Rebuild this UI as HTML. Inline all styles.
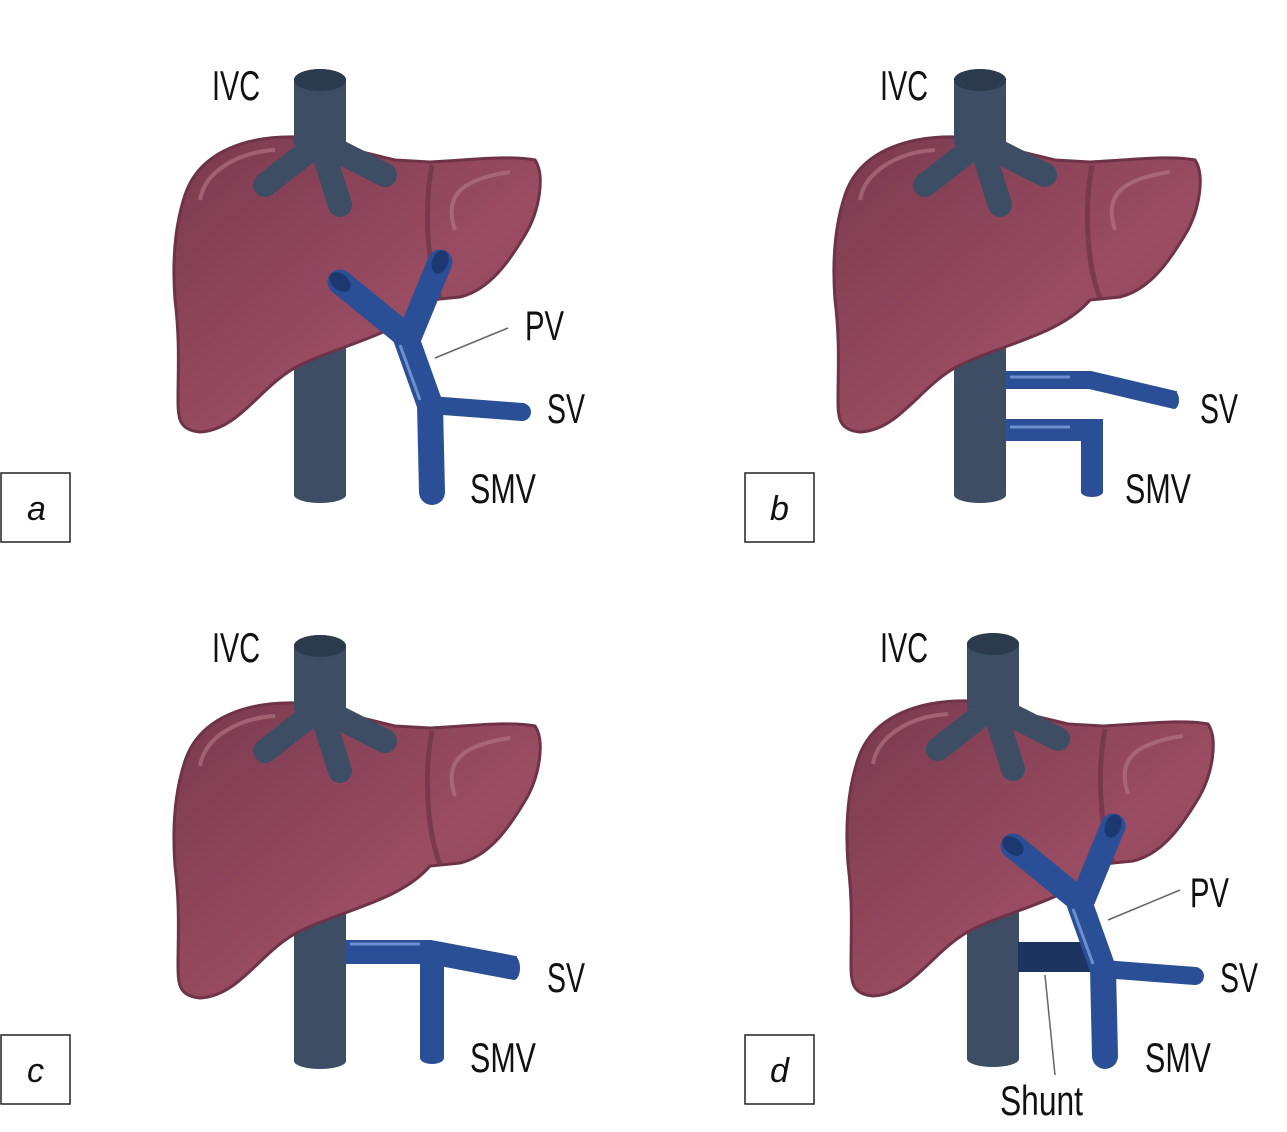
<!DOCTYPE html>
<html><head><meta charset="utf-8"><style>
html,body{margin:0;padding:0;background:#fff;}
svg{display:block;}
text{font-family:"Liberation Sans Narrow","Liberation Sans",sans-serif;font-size:42px;fill:#111;}
.lt{font-style:italic;font-size:34px;}
</style></head><body>
<svg width="1287" height="1132" viewBox="0 0 1287 1132" xmlns="http://www.w3.org/2000/svg">
<defs>
<linearGradient id="lg" x1="0" y1="0" x2="1" y2="1">
<stop offset="0" stop-color="#7a3a4f"/><stop offset="0.6" stop-color="#9a4c62"/><stop offset="1" stop-color="#8a4358"/>
</linearGradient>
<g id="ivc">
<rect x="294" y="80" width="52" height="415" fill="#3d4d63"/>
<ellipse cx="320" cy="495" rx="26" ry="8" fill="#3d4d63"/>
<ellipse cx="320" cy="80" rx="26" ry="11" fill="#2c3a4d"/>
</g>
<g id="liver">
<path d="M185 195 C200 150 250 135 300 137 L395 160 L430 162 C470 160 510 155 535 160 C545 175 540 210 525 235 C510 260 490 290 460 297 L430 300 C400 335 340 345 300 365 C260 385 240 430 200 432 C180 430 178 420 178 400 C178 370 180 340 175 300 C172 260 175 225 185 195 Z" fill="url(#lg)" stroke="#6e3346" stroke-width="3"/>
<path d="M432 165 C425 200 425 260 440 298" fill="none" stroke="#6e3346" stroke-width="5" opacity="0.7"/>
<path d="M200 200 C205 170 240 152 275 150" fill="none" stroke="#b57a8a" stroke-width="4" opacity="0.6"/>
<path d="M455 230 C445 200 455 180 510 172" fill="none" stroke="#b57a8a" stroke-width="4" opacity="0.6"/>
<g stroke="#3d4d63" stroke-width="24" stroke-linecap="round">
<line x1="320" y1="142" x2="265" y2="185"/>
<line x1="320" y1="142" x2="340" y2="205"/>
<line x1="320" y1="142" x2="385" y2="175"/>
</g>
<rect x="294" y="80" width="52" height="65" fill="#3d4d63"/>
<ellipse cx="320" cy="80" rx="26" ry="11" fill="#2c3a4d"/>
</g>
<g id="pv">
<g stroke="#2a4f96" stroke-linecap="round" fill="none">
<line x1="340" y1="282" x2="405" y2="335" stroke-width="25"/>
<line x1="440" y1="262" x2="410" y2="335" stroke-width="25"/>
<path d="M405 335 L430 405 L432 492" stroke-width="26"/>
<line x1="430" y1="405" x2="522" y2="412" stroke-width="18"/>
</g>
<line x1="400" y1="345" x2="420" y2="400" stroke="#6f8ed0" stroke-width="3"/>
<ellipse cx="340" cy="282" rx="12" ry="8" fill="#1d3870" transform="rotate(40 340 282)"/>
<ellipse cx="440" cy="262" rx="12" ry="8" fill="#1d3870" transform="rotate(-70 440 262)"/>
</g>
</defs>

<!-- panel a -->
<use href="#ivc"/><use href="#liver"/><use href="#pv"/>
<line x1="435" y1="358" x2="508" y2="328" stroke="#666" stroke-width="1.5"/>
<text x="212" y="100" textLength="48" lengthAdjust="spacingAndGlyphs">IVC</text>
<text x="525" y="340" textLength="39" lengthAdjust="spacingAndGlyphs">PV</text>
<text x="547" y="423" textLength="38" lengthAdjust="spacingAndGlyphs">SV</text>
<text x="470" y="503" textLength="66" lengthAdjust="spacingAndGlyphs">SMV</text>
<rect x="1" y="473" width="69" height="69" fill="none" stroke="#222" stroke-width="1.5"/><text class="lt" x="27" y="520">a</text>

<!-- panel b -->
<g transform="translate(660,0)">
<use href="#ivc"/><use href="#liver"/>
<g stroke="#2a4f96" fill="none">
<path d="M345 380 L430 380 L515 400" stroke-width="18"/>
<path d="M345 430 L432 430 L432 492" stroke-width="22" stroke-linejoin="miter"/>
</g>
<ellipse cx="432" cy="492" rx="11" ry="5" fill="#2a4f96"/>
<ellipse cx="514" cy="400" rx="5" ry="9" fill="#2a4f96"/>
<line x1="350" y1="377" x2="410" y2="377" stroke="#6f8ed0" stroke-width="3"/>
<line x1="350" y1="427" x2="410" y2="427" stroke="#6f8ed0" stroke-width="3"/>
</g>
<text x="880" y="100" textLength="48" lengthAdjust="spacingAndGlyphs">IVC</text>
<text x="1200" y="423" textLength="38" lengthAdjust="spacingAndGlyphs">SV</text>
<text x="1125" y="503" textLength="66" lengthAdjust="spacingAndGlyphs">SMV</text>
<rect x="745" y="473" width="69" height="69" fill="none" stroke="#222" stroke-width="1.5"/><text class="lt" x="770" y="520">b</text>

<!-- panel c -->
<g transform="translate(0,566)">
<use href="#ivc"/><use href="#liver"/>
<g stroke="#2a4f96" fill="none">
<path d="M345 386 L430 386 L515 402" stroke-width="24"/>
<path d="M432 386 L432 492" stroke-width="24"/>
</g>
<ellipse cx="432" cy="492" rx="12" ry="6" fill="#2a4f96"/>
<ellipse cx="514" cy="402" rx="6" ry="12" fill="#2a4f96"/>
<line x1="350" y1="378" x2="420" y2="378" stroke="#6f8ed0" stroke-width="3"/>
</g>
<text x="212" y="662" textLength="48" lengthAdjust="spacingAndGlyphs">IVC</text>
<text x="547" y="992" textLength="38" lengthAdjust="spacingAndGlyphs">SV</text>
<text x="470" y="1072" textLength="66" lengthAdjust="spacingAndGlyphs">SMV</text>
<rect x="1" y="1035" width="69" height="69" fill="none" stroke="#222" stroke-width="1.5"/><text class="lt" x="27" y="1082">c</text>

<!-- panel d -->
<g transform="translate(673,564)">
<use href="#ivc"/><use href="#liver"/>
<rect x="345" y="378" width="80" height="30" fill="#1d3461"/>
<use href="#pv"/>
</g>
<line x1="1108" y1="920" x2="1180" y2="890" stroke="#666" stroke-width="1.5"/>
<line x1="1045" y1="975" x2="1055" y2="1075" stroke="#666" stroke-width="1.5"/>
<text x="880" y="662" textLength="48" lengthAdjust="spacingAndGlyphs">IVC</text>
<text x="1190" y="907" textLength="39" lengthAdjust="spacingAndGlyphs">PV</text>
<text x="1220" y="992" textLength="38" lengthAdjust="spacingAndGlyphs">SV</text>
<text x="1145" y="1072" textLength="66" lengthAdjust="spacingAndGlyphs">SMV</text>
<text x="1000" y="1115" textLength="83" lengthAdjust="spacingAndGlyphs">Shunt</text>
<rect x="745" y="1035" width="69" height="69" fill="none" stroke="#222" stroke-width="1.5"/><text class="lt" x="770" y="1082">d</text>
</svg>
</body></html>
